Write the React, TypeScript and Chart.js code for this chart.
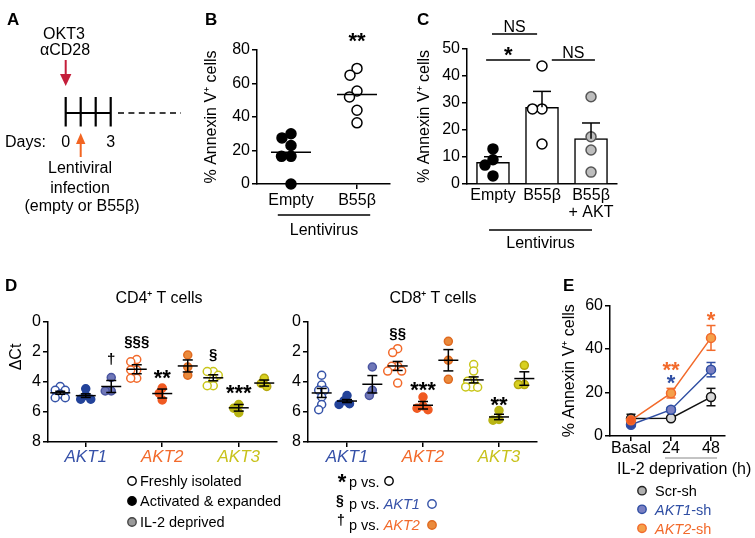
import React, { useEffect, useRef } from 'react';
import { Chart, registerables } from 'chart.js';

Chart.register(...registerables);

const FONT = "'Liberation Sans', Arial, Helvetica, sans-serif";
Chart.defaults.font.family = FONT;
Chart.defaults.color = '#000';

// ---------------- Panel B ----------------
const bLabels = ['Empty', 'B55β'];
const bEmptyValues = [30, 27.5, 23, 16.5, 16.5, 0];
const bB55Values = [69, 65, 55.5, 52, 44, 36.5];
const bMeans = [19, 53.5];
const bMarks = [{ pos: 2, y: 88.4, text: '**' }];
const bGroup = { text: 'Lentivirus', from: 0.8, to: 2.2 };

// ---------------- Panel C ----------------
const cLabels: (string | string[])[] = ['Empty', 'B55β', ['B55β', '+ AKT']];
const cMeans = [8, 28.4, 16.8];
const cSems = [2.1, 5.9, 5.8];
const cEmptyValues = [13, 9, 7, 3];
const cB55Values = [43.7, 27.8, 27.8, 14.8];
const cB55AktValues = [32.3, 17.5, 12.6, 4.4];
const cBrackets = [
  { from: 0.86, to: 1.76, y: 45.9, text: '*' },
  { from: 2.2, to: 3.08, y: 45.9, text: 'NS' },
  { from: 0.98, to: 1.9, y: 55.6, text: 'NS' },
];
const cGroup = { text: 'Lentivirus', from: 0.92, to: 3.02 };

// ---------------- Panel D ----------------
const dGenes = ['AKT1', 'AKT2', 'AKT3'];
const dGeneColors = ['#3651a8', '#f26a2b', '#c8c21c'];
const dConditions = ['Freshly isolated', 'Activated & expanded', 'IL-2 deprived'];

const cd4Akt1Fresh = [4.3, 4.55, 4.55, 4.8, 5.05, 5.05];
const cd4Akt1Act = [4.45, 4.9, 5.15, 5.15];
const cd4Akt1Il2 = [3.7, 4.6, 4.6];
const cd4Akt2Fresh = [2.5, 2.65, 3.2, 3.2, 3.75, 3.75];
const cd4Akt2Act = [4.4, 4.75, 5.2];
const cd4Akt2Il2 = [2.2, 3.0, 3.55];
const cd4Akt3Fresh = [3.3, 3.3, 3.55, 3.8, 4.25, 4.25];
const cd4Akt3Act = [5.5, 5.75, 6.05];
const cd4Akt3Il2 = [3.75, 4.1, 4.3];
const cd4Means = [4.72, 4.91, 4.3, 3.15, 4.77, 2.93, 3.72, 5.72, 4.07];
const cd4Sems = [0.1, 0.12, 0.4, 0.3, 0.3, 0.4, 0.2, 0.22, 0.2];
const cd4Marks = [
  { pos: 3, y: 2.5, text: '†' },
  { pos: 4, y: 1.3, text: '§§§' },
  { pos: 5, y: 3.35, text: '**' },
  { pos: 7, y: 2.2, text: '§' },
  { pos: 8, y: 4.4, text: '***' },
];

const cd8Akt1Fresh = [3.55, 4.2, 4.55, 4.55, 5.0, 5.5, 5.85];
const cd8Akt1Act = [4.9, 5.25, 5.45, 5.5];
const cd8Akt1Il2 = [3.0, 4.55, 4.9];
const cd8Akt2Fresh = [1.78, 2.04, 2.95, 2.95, 3.27, 3.27, 4.07];
const cd8Akt2Act = [5.0, 5.6, 5.75, 5.85];
const cd8Akt2Il2 = [1.29, 2.55, 3.82];
const cd8Akt3Fresh = [2.84, 3.27, 3.95, 3.95, 4.33, 4.35, 4.33];
const cd8Akt3Act = [5.9, 6.5, 6.55];
const cd8Akt3Il2 = [2.89, 4.17, 4.17];
const cd8Means = [4.73, 5.27, 4.15, 2.93, 5.55, 2.55, 3.86, 6.33, 3.77];
const cd8Sems = [0.3, 0.1, 0.58, 0.3, 0.25, 0.71, 0.2, 0.18, 0.45];
const cd8Marks = [
  { pos: 4, y: 0.8, text: '§§' },
  { pos: 5, y: 4.15, text: '***' },
  { pos: 8, y: 5.15, text: '**' },
];

const dStyles = [
  { fill: '#ffffff', stroke: '#3553a8' },
  { fill: '#23439a', stroke: '#23439a' },
  { fill: '#6f77b8', stroke: '#4a55a0' },
  { fill: '#ffffff', stroke: '#f26a2b' },
  { fill: '#f05a22', stroke: '#f05a22' },
  { fill: '#ea8a3c', stroke: '#e06a20' },
  { fill: '#ffffff', stroke: '#c9c61a' },
  { fill: '#b9b514', stroke: '#b9b514' },
  { fill: '#d8d020', stroke: '#b5a810' },
];

// ---------------- Panel E ----------------
const eLabels = ['Basal', '24', '48'];
const eSeriesNames = ['Scr-sh', 'AKT1-sh', 'AKT2-sh'];
const eScr = [8, 8.2, 17.9];
const eScrSem = [2, 0.6, 4];
const eAkt1 = [5.2, 12.1, 30.5];
const eAkt1Sem = [0.8, 1, 3.3];
const eAkt2 = [7.2, 19.7, 45.1];
const eAkt2Sem = [0.8, 2.2, 5.7];
const eMarks = [
  { pos: 1, y: 32.8, text: '**', color: '#f26a2b' },
  { pos: 1, y: 26.8, text: '*', color: '#2f4ea3' },
  { pos: 2, y: 56, text: '*', color: '#f26a2b' },
];
const eGroup = { from: 0.85, to: 2.15 };

// ---------------- helpers ----------------
type Pt = { x: number; y: number };

function swarm(values: number[], center: number, pxPerX: number, pxPerY: number, minDist: number): Pt[] {
  const placed: { dx: number; py: number }[] = [];
  return values.map((v) => {
    const py = v * pxPerY;
    let chosen = 0;
    for (let k = 0; k < 400; k++) {
      const step = Math.ceil(k / 2) * 0.5;
      const dx = k % 2 === 1 ? -step : step;
      if (placed.every((p) => Math.hypot(p.dx - dx, p.py - py) >= minDist)) {
        chosen = dx;
        break;
      }
    }
    placed.push({ dx: chosen, py });
    return { x: center + chosen / pxPerX, y: v };
  });
}

function seg(ctx: CanvasRenderingContext2D, x1: number, y1: number, x2: number, y2: number) {
  ctx.beginPath();
  ctx.moveTo(x1, y1);
  ctx.lineTo(x2, y2);
  ctx.stroke();
}

function drawMark(ctx: CanvasRenderingContext2D, text: string, cx: number, cy: number, color = '#000') {
  ctx.save();
  ctx.fillStyle = color;
  ctx.textAlign = 'center';
  ctx.textBaseline = 'alphabetic';
  if (text.startsWith('*')) {
    const s = 22;
    ctx.font = `bold ${s}px ${FONT}`;
    ctx.fillText(text, cx, cy + 0.56 * s);
  } else if (text === 'NS') {
    const s = 16;
    ctx.font = `${s}px ${FONT}`;
    ctx.fillText(text, cx, cy + 0.358 * s);
  } else {
    const s = 15;
    ctx.font = `bold ${s}px ${FONT}`;
    ctx.fillText(text, cx, cy + 0.27 * s);
  }
  ctx.restore();
}

const axisBorder = { display: true, color: '#000', width: 1.5 };
function gridTicks(len: number) {
  return {
    display: true,
    drawOnChartArea: false,
    drawTicks: len > 0,
    tickLength: len,
    color: '#000',
    lineWidth: 1.5,
  };
}
function baseOptions(pad: { top: number; right: number }) {
  return {
    responsive: false,
    animation: false,
    devicePixelRatio: 1,
    events: [],
    layout: { padding: { top: pad.top, right: pad.right, left: 0, bottom: 0 } },
    plugins: { legend: { display: false }, tooltip: { enabled: false } },
  };
}
const yTitle = (text: string) => ({ display: true, text, font: { size: 16 }, color: '#000', padding: 0 });

function ChartCanvas({ left, top, width, height, make }: { left: number; top: number; width: number; height: number; make: () => any }) {
  const ref = useRef<HTMLCanvasElement>(null);
  useEffect(() => {
    const chart = new Chart(ref.current as HTMLCanvasElement, make());
    return () => chart.destroy();
  }, []);
  return (
    <canvas
      ref={ref}
      width={width}
      height={height}
      style={{ position: 'absolute', left, top, width, height }}
    />
  );
}

// ---------------- chart configs ----------------
function makeB() {
  const overlay = {
    id: 'bOverlay',
    afterDatasetsDraw(chart: any) {
      const { ctx, scales: { x, y }, chartArea } = chart;
      ctx.save();
      ctx.strokeStyle = '#000';
      ctx.lineWidth = 1.5;
      bMeans.forEach((m, i) => {
        const px = x.getPixelForValue(i + 1);
        const py = y.getPixelForValue(m);
        seg(ctx, px - 20, py, px + 20, py);
      });
      bMarks.forEach((mk) => drawMark(ctx, mk.text, x.getPixelForValue(mk.pos), y.getPixelForValue(mk.y)));
      const ly = chartArea.bottom + 31;
      seg(ctx, x.getPixelForValue(bGroup.from), ly, x.getPixelForValue(bGroup.to), ly);
      ctx.fillStyle = '#000';
      ctx.font = `16px ${FONT}`;
      ctx.textAlign = 'center';
      ctx.textBaseline = 'alphabetic';
      ctx.fillText(bGroup.text, (x.getPixelForValue(bGroup.from) + x.getPixelForValue(bGroup.to)) / 2, ly + 14 + 5.7);
      ctx.restore();
    },
  };
  return {
    type: 'scatter',
    data: {
      datasets: [
        { data: swarm(bEmptyValues, 1, 66, 1.675, 9.5), pointRadius: 5, pointBackgroundColor: '#000', pointBorderColor: '#000', pointBorderWidth: 1.5, clip: false },
        { data: swarm(bB55Values, 2, 66, 1.675, 9.5), pointRadius: 5, pointBackgroundColor: '#fff', pointBorderColor: '#000', pointBorderWidth: 1.5, clip: false },
      ],
    },
    options: {
      ...baseOptions({ top: 30, right: 7 }),
      scales: {
        x: {
          type: 'linear', min: 0.485, max: 2.5,
          afterBuildTicks: (s: any) => { s.ticks = bLabels.map((_, i) => ({ value: i + 1 })); },
          afterFit: (s: any) => { s.height = 66; },
          ticks: { callback: (v: number) => bLabels[Math.round(v) - 1], font: { size: 16 }, color: '#000', padding: 2, autoSkip: false, maxRotation: 0, minRotation: 0 },
          grid: gridTicks(5), border: axisBorder,
        },
        y: {
          min: 0, max: 80,
          ticks: { stepSize: 20, font: { size: 16 }, color: '#000', padding: 2 },
          grid: gridTicks(5), border: axisBorder,
          title: yTitle('% Annexin V⁺ cells'),
          afterFit: (s: any) => { s.width = 55; },
        },
      },
    },
    plugins: [overlay],
  };
}

function makeC() {
  const overlay = {
    id: 'cOverlay',
    afterDatasetsDraw(chart: any) {
      const { ctx, scales: { x, y }, chartArea } = chart;
      ctx.save();
      ctx.strokeStyle = '#000';
      ctx.lineWidth = 1.5;
      cMeans.forEach((m, i) => {
        const px = x.getPixelForValue(i + 1);
        const p0 = y.getPixelForValue(m);
        const p1 = y.getPixelForValue(m + cSems[i]);
        seg(ctx, px, p0, px, p1);
        seg(ctx, px - 9, p1, px + 9, p1);
      });
      cBrackets.forEach((b) => {
        const py = y.getPixelForValue(b.y);
        const x1 = x.getPixelForValue(b.from);
        const x2 = x.getPixelForValue(b.to);
        seg(ctx, x1, py, x2, py);
        drawMark(ctx, b.text, (x1 + x2) / 2, py - (b.text === 'NS' ? 8 : 10));
      });
      const ly = chartArea.bottom + 46;
      seg(ctx, x.getPixelForValue(cGroup.from), ly, x.getPixelForValue(cGroup.to), ly);
      ctx.fillStyle = '#000';
      ctx.font = `16px ${FONT}`;
      ctx.textAlign = 'center';
      ctx.textBaseline = 'alphabetic';
      ctx.fillText(cGroup.text, (x.getPixelForValue(cGroup.from) + x.getPixelForValue(cGroup.to)) / 2, ly + 12 + 5.7);
      ctx.restore();
    },
  };
  const pt = (vals: number[], center: number, fill: string, stroke: string) => ({
    type: 'scatter',
    data: swarm(vals, center, 49, 2.7, 9.5),
    pointRadius: 5, pointBackgroundColor: fill, pointBorderColor: stroke, pointBorderWidth: 1.5, clip: false, order: 0,
  });
  return {
    type: 'bar',
    data: {
      datasets: [
        pt(cEmptyValues, 1, '#000', '#000'),
        pt(cB55Values, 2, '#fff', '#000'),
        pt(cB55AktValues, 3, '#bdbdbd', '#555'),
        {
          type: 'bar',
          data: cMeans.map((m, i) => ({ x: i + 1, y: m })),
          backgroundColor: '#fff', borderColor: '#000', borderWidth: 1.5, barThickness: 33, order: 1,
        },
      ],
    },
    options: {
      ...baseOptions({ top: 39, right: 8 }),
      scales: {
        x: {
          type: 'linear', min: 0.47, max: 3.53, offset: false,
          afterBuildTicks: (s: any) => { s.ticks = cLabels.map((_, i) => ({ value: i + 1 })); },
          afterFit: (s: any) => { s.height = 76; },
          ticks: { callback: (v: number) => cLabels[Math.round(v) - 1], font: { size: 16, lineHeight: 1.05 }, color: '#000', padding: 3, autoSkip: false, maxRotation: 0, minRotation: 0 },
          grid: { ...gridTicks(0), display: false }, border: axisBorder,
        },
        y: {
          min: 0, max: 50,
          ticks: { stepSize: 10, font: { size: 16 }, color: '#000', padding: 2 },
          grid: gridTicks(5), border: axisBorder,
          title: yTitle('% Annexin V⁺ cells'),
          afterFit: (s: any) => { s.width = 52; },
        },
      },
    },
    plugins: [overlay],
  };
}

function makeD(groups: number[][], means: number[], sems: number[], marks: { pos: number; y: number; text: string }[], xmin: number, xmax: number, yw: number) {
  const overlay = {
    id: 'dOverlay',
    afterDatasetsDraw(chart: any) {
      const { ctx, scales: { x, y } } = chart;
      ctx.save();
      ctx.strokeStyle = '#000';
      ctx.lineWidth = 1.5;
      means.forEach((m, i) => {
        const px = x.getPixelForValue(i + 1);
        const py = y.getPixelForValue(m);
        const t = y.getPixelForValue(m - sems[i]);
        const b = y.getPixelForValue(m + sems[i]);
        seg(ctx, px - 10, py, px + 10, py);
        seg(ctx, px, t, px, b);
        seg(ctx, px - 5, t, px + 5, t);
        seg(ctx, px - 5, b, px + 5, b);
      });
      marks.forEach((mk) => drawMark(ctx, mk.text, x.getPixelForValue(mk.pos), y.getPixelForValue(mk.y)));
      ctx.restore();
    },
  };
  return {
    type: 'scatter',
    data: {
      datasets: groups.map((vals, i) => ({
        data: swarm(vals, i + 1, 25.4, 15, 6),
        pointRadius: 4,
        pointBackgroundColor: dStyles[i].fill,
        pointBorderColor: dStyles[i].stroke,
        pointBorderWidth: 1.5,
        clip: false,
      })),
    },
    options: {
      ...baseOptions({ top: 22, right: 8 }),
      scales: {
        x: {
          type: 'linear', min: xmin, max: xmax,
          afterBuildTicks: (s: any) => { s.ticks = dGenes.map((_, i) => ({ value: i * 3 + 2 })); },
          afterFit: (s: any) => { s.height = 28; },
          ticks: {
            callback: (v: number) => dGenes[Math.round((v - 2) / 3)],
            font: { size: 17, style: 'italic' },
            color: (c: any) => dGeneColors[c.index] || '#000',
            padding: 0, autoSkip: false, maxRotation: 0, minRotation: 0,
          },
          grid: gridTicks(5), border: axisBorder,
        },
        y: {
          min: 0, max: 8, reverse: true,
          ticks: { stepSize: 2, font: { size: 16 }, color: '#000', padding: 2 },
          grid: gridTicks(5), border: axisBorder,
          afterFit: (s: any) => { s.width = yw; },
        },
      },
    },
    plugins: [overlay],
  };
}

function makeE() {
  const series = [
    { vals: eAkt2, sems: eAkt2Sem, color: '#f26a2b', fills: ['#f05a22', '#f4a04a', '#f4a04a'] },
    { vals: eAkt1, sems: eAkt1Sem, color: '#2f4ea3', fills: ['#2e47a0', '#7a80c2', '#7a80c2'] },
    { vals: eScr, sems: eScrSem, color: '#111111', fills: ['#9a9a9a', '#d9d9d9', '#d9d9d9'] },
  ];
  const overlay = {
    id: 'eOverlay',
    beforeDatasetsDraw(chart: any) {
      const { ctx, scales: { x, y } } = chart;
      ctx.save();
      ctx.lineWidth = 1.5;
      series.forEach((s) => {
        ctx.strokeStyle = s.color;
        s.vals.forEach((v, i) => {
          const px = x.getPixelForValue(i);
          const t = y.getPixelForValue(v + s.sems[i]);
          const b = y.getPixelForValue(v - s.sems[i]);
          seg(ctx, px, t, px, b);
          seg(ctx, px - 4.5, t, px + 4.5, t);
          seg(ctx, px - 4.5, b, px + 4.5, b);
        });
      });
      ctx.restore();
    },
    afterDatasetsDraw(chart: any) {
      const { ctx, scales: { x, y }, chartArea } = chart;
      eMarks.forEach((mk) => drawMark(ctx, mk.text, x.getPixelForValue(mk.pos), y.getPixelForValue(mk.y), mk.color));
      ctx.save();
      ctx.strokeStyle = '#888';
      ctx.lineWidth = 1;
      const ly = chartArea.bottom + 22;
      seg(ctx, x.getPixelForValue(eGroup.from), ly, x.getPixelForValue(eGroup.to), ly);
      ctx.restore();
    },
  };
  return {
    type: 'line',
    data: {
      datasets: series.map((s) => ({
        data: s.vals.map((v, i) => ({ x: i, y: v })),
        borderColor: s.color,
        borderWidth: 1.5,
        tension: 0,
        pointRadius: 4.5,
        pointBackgroundColor: s.fills,
        pointBorderColor: s.color,
        pointBorderWidth: 1.5,
        clip: false,
      })),
    },
    options: {
      ...baseOptions({ top: 15.5, right: 30 }),
      scales: {
        x: {
          type: 'linear', min: -0.525, max: 2.35,
          afterBuildTicks: (s: any) => { s.ticks = eLabels.map((_, i) => ({ value: i })); },
          afterFit: (s: any) => { s.height = 44; },
          ticks: { callback: (v: number) => eLabels[Math.round(v)], font: { size: 16, lineHeight: 1 }, color: '#000', padding: 0, autoSkip: false, maxRotation: 0, minRotation: 0 },
          grid: gridTicks(5), border: axisBorder,
        },
        y: {
          min: 0, max: 60,
          ticks: { stepSize: 20, font: { size: 16 }, color: '#000', padding: 2 },
          grid: gridTicks(5), border: axisBorder,
          title: yTitle('% Annexin V⁺ cells'),
          afterFit: (s: any) => { s.width = 50; },
        },
      },
    },
    plugins: [overlay],
  };
}

// ---------------- overlay SVG (diagram, titles, legends) ----------------
function Overlay() {
  const t = { fontFamily: FONT, fill: '#000' } as const;
  return (
    <svg width={755} height={538} style={{ position: 'absolute', left: 0, top: 0, pointerEvents: 'none' }}>
      {/* panel letters */}
      {[['A', 7, 25], ['B', 205, 25], ['C', 417, 25], ['D', 5, 291], ['E', 563, 291]].map(([l, x, y]) => (
        <text key={l as string} x={x as number} y={y as number} fontSize={17} fontWeight={900} {...t}>{l}</text>
      ))}

      {/* Panel A diagram */}
      <text x={64} y={39} fontSize={16} textAnchor="middle" {...t}>OKT3</text>
      <text x={65} y={55} fontSize={16} textAnchor="middle" {...t}>αCD28</text>
      <line x1={65.7} y1={60} x2={65.7} y2={76} stroke="#c41e3a" strokeWidth={2} />
      <polygon points="65.7,86 60,74 71.4,74" fill="#c41e3a" />
      <line x1={65.7} y1={113} x2={110.7} y2={113} stroke="#000" strokeWidth={2.2} />
      {[65.7, 80.7, 95.7, 110.7].map((x) => (
        <line key={x} x1={x} y1={97} x2={x} y2={126.5} stroke="#000" strokeWidth={2.2} />
      ))}
      <line x1={118} y1={113} x2={181} y2={113} stroke="#000" strokeWidth={1.5} strokeDasharray="6 4.4" />
      <text x={5} y={146.7} fontSize={16} {...t}>Days:</text>
      <text x={65.7} y={146.7} fontSize={16} textAnchor="middle" {...t}>0</text>
      <text x={110.7} y={146.7} fontSize={16} textAnchor="middle" {...t}>3</text>
      <line x1={80.7} y1={157} x2={80.7} y2={142} stroke="#f26522" strokeWidth={2} />
      <polygon points="80.7,133 76,144 85.4,144" fill="#f26522" />
      <text x={80} y={173.3} fontSize={16} textAnchor="middle" {...t}>Lentiviral</text>
      <text x={80} y={193.3} fontSize={16} textAnchor="middle" {...t}>infection</text>
      <text x={82} y={211} fontSize={16} textAnchor="middle" {...t}>(empty or B55β)</text>

      {/* Panel D titles */}
      <text x={159} y={303} fontSize={16} textAnchor="middle" {...t}>CD4⁺ T cells</text>
      <text x={433} y={303} fontSize={16} textAnchor="middle" {...t}>CD8⁺ T cells</text>
      <text transform="translate(20.7,357) rotate(-90)" fontSize={16} textAnchor="middle" {...t}>ΔCt</text>

      {/* Panel D legend 1 */}
      <circle cx={132} cy={481} r={4.2} fill="#fff" stroke="#000" strokeWidth={1.4} />
      <circle cx={132} cy={501} r={4.2} fill="#000" stroke="#000" strokeWidth={1.4} />
      <circle cx={132} cy={522} r={4.2} fill="#9a9a9a" stroke="#444" strokeWidth={1.4} />
      <text x={140} y={486.2} fontSize={14.5} {...t}>{dConditions[0]}</text>
      <text x={140} y={506.2} fontSize={14.5} {...t}>{dConditions[1]}</text>
      <text x={140} y={527.2} fontSize={14.5} {...t}>{dConditions[2]}</text>

      {/* Panel D legend 2 */}
      <text x={342} y={489.3} fontSize={22} fontWeight={700} textAnchor="middle" {...t}>*</text>
      <text x={349} y={487} fontSize={14.5} {...t}>p vs.</text>
      <circle cx={389} cy={481} r={4.2} fill="#fff" stroke="#000" strokeWidth={1.4} />
      <text x={340} y={505} fontSize={14} fontWeight={700} textAnchor="middle" {...t}>§</text>
      <text x={349} y={508.8} fontSize={14.5} {...t}>p vs. <tspan fill={dGeneColors[0]} fontStyle="italic">{dGenes[0]}</tspan></text>
      <circle cx={432} cy={504} r={4.2} fill="#fff" stroke="#3553a8" strokeWidth={1.4} />
      <text x={341} y={525} fontSize={14} fontWeight={700} textAnchor="middle" {...t}>†</text>
      <text x={349} y={529.8} fontSize={14.5} {...t}>p vs. <tspan fill={dGeneColors[1]} fontStyle="italic">{dGenes[1]}</tspan></text>
      <circle cx={432} cy={525} r={4.2} fill="#ea8a3c" stroke="#e06a20" strokeWidth={1.4} />

      {/* Panel E axis title + legend */}
      <text x={617} y={474} fontSize={16} {...t}>IL-2 deprivation (h)</text>
      <circle cx={642} cy={490.7} r={4.2} fill="#b0b0b0" stroke="#222" strokeWidth={1.4} />
      <circle cx={642} cy={509.3} r={4.2} fill="#7a80c2" stroke="#2f4ea3" strokeWidth={1.4} />
      <circle cx={642} cy={528.3} r={4.2} fill="#f4a04a" stroke="#f26a2b" strokeWidth={1.4} />
      <text x={655} y={495.9} fontSize={14.5} {...t}>{eSeriesNames[0]}</text>
      <text x={655} y={514.5} fontSize={14.5} {...t} fill="#2f4ea3"><tspan fontStyle="italic">AKT1</tspan>-sh</text>
      <text x={655} y={533.5} fontSize={14.5} {...t} fill="#f26a2b"><tspan fontStyle="italic">AKT2</tspan>-sh</text>
    </svg>
  );
}

export default function App() {
  const cd4Groups = [cd4Akt1Fresh, cd4Akt1Act, cd4Akt1Il2, cd4Akt2Fresh, cd4Akt2Act, cd4Akt2Il2, cd4Akt3Fresh, cd4Akt3Act, cd4Akt3Il2];
  const cd8Groups = [cd8Akt1Fresh, cd8Akt1Act, cd8Akt1Il2, cd8Akt2Fresh, cd8Akt2Act, cd8Akt2Il2, cd8Akt3Fresh, cd8Akt3Act, cd8Akt3Il2];
  return (
    <div style={{ position: 'absolute', left: 0, top: 0, width: 755, height: 538, background: '#fff', overflow: 'hidden' }}>
      <ChartCanvas left={202} top={20} width={195} height={230} make={makeB} />
      <ChartCanvas left={415} top={10} width={210} height={250} make={makeC} />
      <ChartCanvas left={0} top={300} width={285} height={170} make={() => makeD(cd4Groups, cd4Means, cd4Sems, cd4Marks, 0.52, 9.5, 48)} />
      <ChartCanvas left={280} top={300} width={265} height={170} make={() => makeD(cd8Groups, cd8Means, cd8Sems, cd8Marks, 0.46, 9.5, 28)} />
      <ChartCanvas left={560} top={290} width={195} height={190} make={makeE} />
      <Overlay />
    </div>
  );
}
